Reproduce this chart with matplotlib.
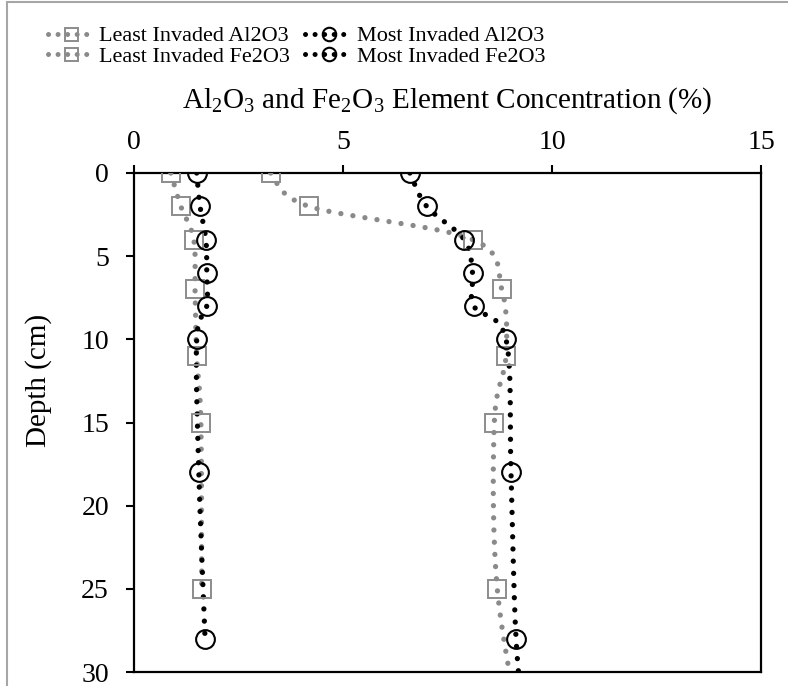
import numpy as np
import matplotlib
matplotlib.use("Agg")
import matplotlib.pyplot as plt
from matplotlib.lines import Line2D
from matplotlib.patches import Rectangle

plt.rcParams['font.family'] = ['Liberation Serif', 'DejaVu Serif']
plt.rcParams['mathtext.fontset'] = 'custom'
plt.rcParams['mathtext.rm'] = 'Liberation Serif'

# ---- data ----
least_al_depth = [0, 2, 4, 7, 11, 15, 25, 35]
least_al_conc = [3.27, 4.18, 8.1, 8.8, 8.9, 8.62, 8.69, 9.35]

least_fe_depth = [0, 2, 4, 7, 11, 15, 25]
least_fe_conc = [0.88, 1.12, 1.43, 1.46, 1.5, 1.6, 1.62]

most_al_depth = [0, 2, 4, 6, 8, 10, 18, 28, 35]
most_al_conc = [6.6, 7.0, 7.9, 8.1, 8.13, 8.9, 9.02, 9.14, 9.4]

most_fe_depth = [0, 2, 4, 6, 8, 10, 18, 28]
most_fe_conc = [1.5, 1.58, 1.72, 1.74, 1.74, 1.5, 1.55, 1.7]

x_ticks = [0, 5, 10, 15]
y_ticks = [0, 5, 10, 15, 20, 25, 30]


def smooth(xs, ys, n=40):
    """Excel-like smoothed line (Catmull-Rom Bezier)."""
    P = np.column_stack([xs, ys]).astype(float)
    m = len(P)
    out = []
    for i in range(m - 1):
        p0 = P[i - 1] if i > 0 else P[i]
        p1 = P[i]
        p2 = P[i + 1]
        p3 = P[i + 2] if i + 2 < m else P[i + 1]
        c1 = p1 + (p2 - p0) / 6.0
        c2 = p2 - (p3 - p1) / 6.0
        t = np.linspace(0, 1, n)[:, None]
        seg = ((1 - t) ** 3) * p1 + 3 * ((1 - t) ** 2) * t * c1 + 3 * (1 - t) * t ** 2 * c2 + t ** 3 * p2
        if i > 0:
            seg = seg[1:]
        out.append(seg)
    out = np.vstack(out)
    return out[:, 0], out[:, 1]


GRAY = '#8a8a8a'
SQ_EDGE = '#8c8c8c'
BLACK = '#000000'

fig = plt.figure(figsize=(7.88, 6.86), dpi=100)
ax = fig.add_axes([134 / 788, 1 - 672 / 686, (761 - 134) / 788, (672 - 173) / 686])

line_kw = dict(linestyle=(0, (0.01, 2.3)), linewidth=3.8, dash_capstyle='round')
leg_kw = dict(linestyle=(0, (0.01, 1.9)), linewidth=3.6, dash_capstyle='round')

series = [
    (least_al_conc, least_al_depth, GRAY, 's', SQ_EDGE, 'Least Invaded Al2O3'),
    (least_fe_conc, least_fe_depth, GRAY, 's', SQ_EDGE, 'Least Invaded Fe2O3'),
    (most_al_conc, most_al_depth, BLACK, 'o', BLACK, 'Most Invaded Al2O3'),
    (most_fe_conc, most_fe_depth, BLACK, 'o', BLACK, 'Most Invaded Fe2O3'),
]

handles = []
for xs, ys, col, mk, mec, lab in series:
    sx, sy = smooth(xs, ys)
    ax.plot(sx, sy, color=col, **line_kw, zorder=3)
    ms = 13 if mk == 's' else 13.5
    mew = 1.4 if mk == 's' else 1.5
    ax.plot(xs, ys, linestyle='none', marker=mk, markersize=ms, markerfacecolor='none',
            markeredgecolor=mec, markeredgewidth=mew, zorder=4)
    handles.append(Line2D([], [], color=col, **leg_kw, marker=mk, markersize=ms * 0.72,
                          markerfacecolor='none', markeredgecolor=mec,
                          markeredgewidth=mew, label=lab))

ax.set_xlim(0, 15)
ax.set_ylim(30, 0)
ax.set_xticks(x_ticks)
ax.set_yticks(y_ticks)
ax.xaxis.tick_top()
ax.xaxis.set_label_position('top')
ax.tick_params(axis='both', labelsize=20, direction='out', length=6, width=1.5, color='black')
ax.tick_params(axis='x', pad=7)
ax.tick_params(axis='y', pad=12)
for sp in ax.spines.values():
    sp.set_linewidth(1.6)
    sp.set_color('black')

ax.set_xlabel(r'Al$_2$O$_3$ and Fe$_2$O$_3$ Element Concentration (%)', fontsize=21, labelpad=16)
ax.set_ylabel('Depth (cm)', fontsize=21)
ax.yaxis.set_label_coords(-0.131, 0.585)

fig.legend(handles=handles, ncol=2, loc='upper left', bbox_to_anchor=(39 / 788, 1 - 17 / 686),
           frameon=False, fontsize=16, handlelength=2.1, handletextpad=0.2,
           columnspacing=0.7, labelspacing=0.0, numpoints=1, borderaxespad=0)

fig.patches.append(Rectangle((7 / 788, -0.05), 1.2, 1.05 - 2 / 686, transform=fig.transFigure,
                             fill=False, edgecolor='#a6a6a6', linewidth=1.5, zorder=0))

fig.savefig('out.png', dpi=100)
